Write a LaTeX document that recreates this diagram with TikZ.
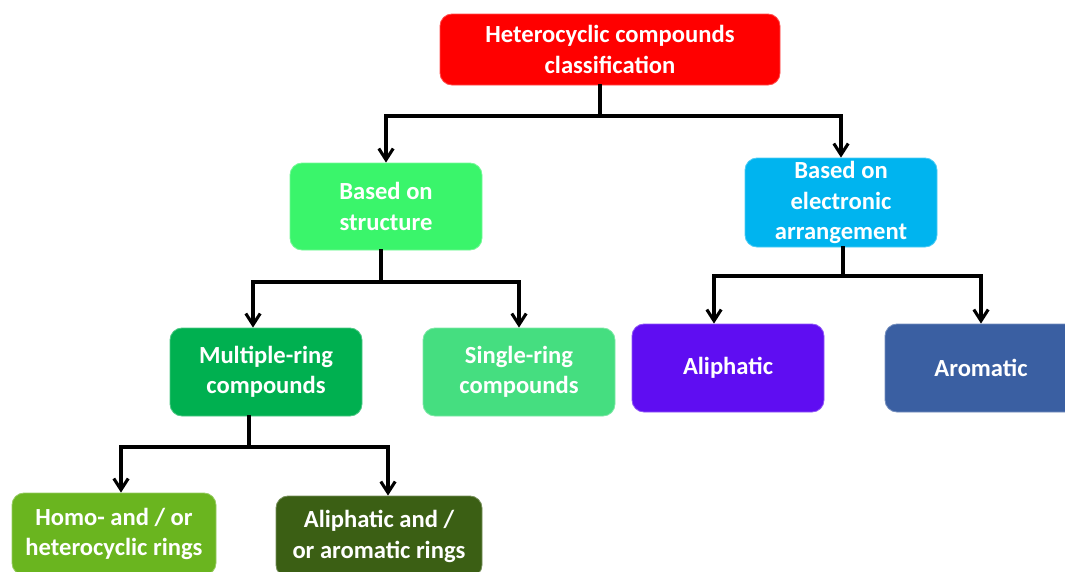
\documentclass[tikz,border=0pt]{standalone}
\usepackage{fontspec}
\setmainfont{Carlito}
\usetikzlibrary{arrows.meta}
\definecolor{clsred}{HTML}{FF0000}
\definecolor{strgreen}{HTML}{3AF56B}
\definecolor{elecblue}{HTML}{00B4EF}
\definecolor{multigreen}{HTML}{00B050}
\definecolor{singlegreen}{HTML}{45DE80}
\definecolor{aliphviolet}{HTML}{5F0DF2}
\definecolor{aromblue}{HTML}{3A5FA2}
\definecolor{homogreen}{HTML}{6AB51F}
\definecolor{ringgreen}{HTML}{3B5F14}
\tikzset{
box/.style={rounded corners=0.3cm, draw=#1!70!white, line width=0.6pt, fill=#1,
  text=white, font=\fontsize{17.5}{21.5}\selectfont\bfseries, align=center,
  inner sep=0pt, minimum width=4.8cm, minimum height=2.2cm},
link/.style={line width=2.2pt, line cap=rect},
arr/.style={link, -{Straight Barb[length=0.28cm, width=0.36cm, line width=2.2pt]}},
}

\begin{document}
\begin{tikzpicture}
    \useasboundingbox (0,0) rectangle (26.625,-14.275);

    %nodes
    \node[box=clsred, minimum width=8.5cm, minimum height=1.775cm] (cls) at (15.25,-1.2375) {Heterocyclic compounds\\classification};
    \node[box=strgreen, minimum height=2.175cm] (str) at (9.65,-5.1625) {Based on\\structure};
    \node[box=elecblue, minimum height=2.225cm] (elec) at (21.025,-5.0625) {Based on\\electronic\\arrangement};
    \node[box=multigreen] (multi) at (6.65,-9.3) {Multiple-ring\\compounds};
    \node[box=singlegreen] (single) at (12.975,-9.3) {Single-ring\\compounds};
    \node[box=aliphviolet] (aliph) at (18.2,-9.2) {Aliphatic};
    \node[box=aromblue] (arom) at (24.525,-9.2) {Aromatic};
    \node[box=homogreen, minimum width=5.1cm, minimum height=2.05cm] (homo) at (2.85,-13.35) {Homo- and / or\\heterocyclic rings};
    \node[box=ringgreen, minimum width=5.15cm, minimum height=2.025cm] (rings) at (9.475,-13.4125) {Aliphatic and /\\or aromatic rings};

    %junctions
    \coordinate (j1) at (15,-2.9);
    \coordinate (j2) at (9.525,-7.05);
    \coordinate (j3) at (21.075,-6.9);
    \coordinate (j4) at (6.225,-11.175);

    %connectors
    \draw[link] (cls.south -| j1) -- (j1);
    \draw[arr] (j1) -| (str.north);
    \draw[arr] (j1) -| (elec.north);
    \draw[link] (str.south -| j2) -- (j2);
    \draw[arr] (j2) -| ([xshift=-0.325cm]multi.north);
    \draw[arr] (j2) -| (single.north);
    \draw[link] (elec.south -| j3) -- (j3);
    \draw[arr] (j3) -| ([xshift=-0.35cm]aliph.north);
    \draw[arr] (j3) -| (arom.north);
    \draw[link] (multi.south -| j4) -- (j4);
    \draw[arr] (j4) -| ([xshift=0.175cm]homo.north);
    \draw[arr] (j4) -| ([xshift=0.225cm]rings.north);

\end{tikzpicture}
\end{document}
